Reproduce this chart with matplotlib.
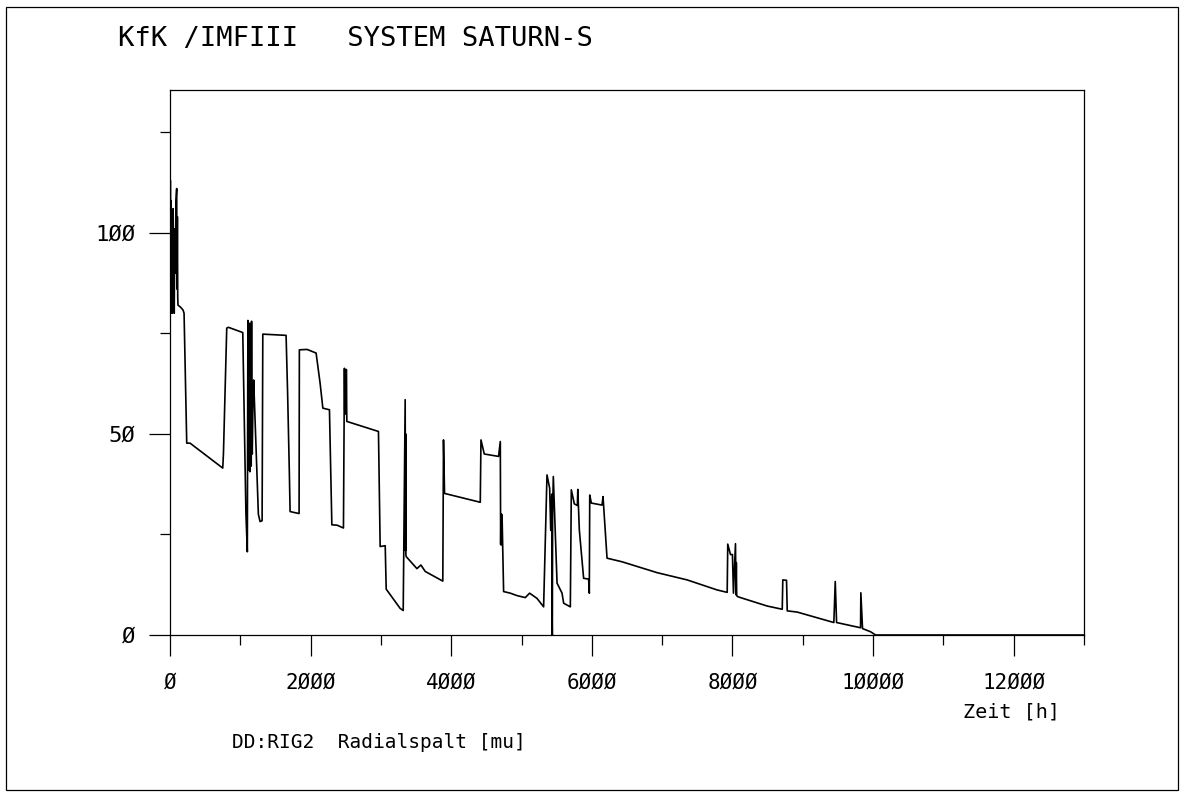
import numpy as np
import matplotlib.pyplot as plt
from matplotlib.patches import Rectangle
from matplotlib.ticker import MultipleLocator

# Radialspalt over time
zeit_h = [0, 5, 10, 15, 20, 25, 30, 35, 40, 45, 50, 55, 60, 68, 75, 85, 95, 100, 105,
          110, 114, 150, 185, 200, 238, 285,
          750, 760, 807, 830, 1035, 1050, 1080, 1100, 1108, 1112, 1116, 1120, 1124,
          1128, 1132, 1136, 1140, 1145, 1150, 1155, 1160, 1165, 1170, 1180, 1190,
          1257, 1281, 1310, 1320, 1651, 1673, 1698, 1708, 1755, 1836,
          1840, 1950, 2078, 2135, 2174, 2268, 2302, 2377, 2467, 2481, 2486, 2490,
          2495, 2500, 2505, 2508, 2515, 2965, 2989, 3061, 3075, 3274, 3317, 3345,
          3350, 3352, 3355, 3359, 3512, 3569,
          3630, 3880, 3890, 3905, 4413, 4423, 4470, 4673, 4698, 4703, 4707, 4712,
          4718, 4725, 4745,
          4840, 4935, 5053, 5115, 5220, 5314, 5362, 5400, 5415, 5430, 5434, 5438,
          5442, 5452, 5505,
          5576, 5599, 5694, 5708, 5751, 5794, 5800, 5822, 5883, 5954, 5964, 5970,
          5993, 6145, 6159, 6216, 6430, 6928, 7355, 7782, 7925, 7933, 7972, 8000,
          8014, 8043, 8050, 8055, 8060, 8067, 8114, 8494, 8708, 8716, 8769, 8779,
          8921, 9442, 9462, 9481, 9822, 9826, 9850, 9965, 10036, 13000]
spalt_mu = [85, 113, 80, 108, 82, 104, 80, 100, 84, 106, 83, 98, 80, 101, 90, 108, 111,
            86, 104, 84, 82, 81.5, 80.8, 80, 47.7, 47.7,
            41.5, 45, 76.3, 76.5, 75.2, 60, 30, 20.7, 78.2, 42, 76, 41, 72, 44,
            77.5, 40.6, 70, 45, 74, 42, 78, 48, 45, 58, 63.4,
            30, 28.2, 28.4, 74.8, 74.5, 60, 40, 30.7, 30.5, 30.2,
            70.9, 71, 70.1, 62.6, 56.4, 56.0, 27.4, 27.3, 26.6, 66.3, 56, 66,
            55, 65.5, 55, 66, 53.1, 50.6, 22, 22.2, 11.4, 6.6, 6.1, 58.5,
            21, 50, 20, 19.5, 16.5, 17.4,
            15.8, 13.4, 48.5, 35.2, 33.0, 48.5, 45.0, 44.4, 48.1, 22.5, 30, 22.4,
            30, 28, 10.8,
            10.4, 9.8, 9.3, 10.4, 9.1, 7.0, 39.8, 36.5, 26, 35, 5, 0,
            30, 39.4, 12.9,
            10.4, 7.9, 7.0, 36.1, 32.6, 32.2, 36.2, 26.1, 14.1, 13.9, 10.4, 34.8,
            32.8, 32.3, 34.4, 19.1, 18.2, 15.5, 13.7, 11.2, 10.6, 22.6, 20.0, 20,
            10.4, 22.7, 10, 18, 10, 9.6, 9.3, 7.2, 6.4, 13.7, 13.6, 6.0,
            5.7, 3.1, 13.3, 3.1, 1.8, 10.5, 1.6, 0.8, 0, 0]

x_ticks = [0, 2000, 4000, 6000, 8000, 10000, 12000]
x_labels = ['Ø', '2ØØØ', '4ØØØ', '6ØØØ', '8ØØØ', '1ØØØØ', '12ØØØ']
y_ticks = [0, 50, 100]
y_labels = ['Ø', '5Ø', '1ØØ']

plt.rcParams['font.family'] = ['DejaVu Sans Mono']

fig = plt.figure(figsize=(11.83, 7.94), dpi=100)
W, H = 1183, 794

# outer frame round the whole sheet
fig.patches.append(Rectangle((6 / W, 4 / H), 1172 / W, 783 / H, transform=fig.transFigure,
                             fill=False, edgecolor='black', linewidth=0.9))

ax = fig.add_axes([170 / W, 1 - 635 / H, 914 / W, 545 / H])
ax.plot(zeit_h, spalt_mu, color='black', linewidth=1.2)

ax.set_xlim(0, 13000)
ax.set_ylim(0, 135.5)
ax.set_xticks(x_ticks)
ax.set_xticklabels(x_labels)
ax.set_yticks(y_ticks)
ax.set_yticklabels(y_labels)
ax.xaxis.set_minor_locator(MultipleLocator(1000))
ax.yaxis.set_minor_locator(MultipleLocator(25))
ax.tick_params(axis='x', which='major', length=15, width=0.9, pad=12, labelsize=15)
ax.tick_params(axis='x', which='minor', length=7, width=0.9)
ax.tick_params(axis='y', which='major', length=15, width=0.9, pad=10, labelsize=16)
ax.tick_params(axis='y', which='minor', length=7, width=0.9)
for s in ax.spines.values():
    s.set_linewidth(0.9)

fig.text(118 / W, 1 - 39 / H, 'KfK /IMFIII   SYSTEM SATURN-S', fontsize=19.5,
         ha='left', va='center')
fig.text(1060 / W, 1 - 712 / H, 'Zeit [h]', fontsize=14.5, ha='right', va='center')
fig.text(232 / W, 1 - 742 / H, 'DD:RIG2  Radialspalt [mu]', fontsize=14,
         ha='left', va='center')

fig.savefig('out.png', dpi=100)
